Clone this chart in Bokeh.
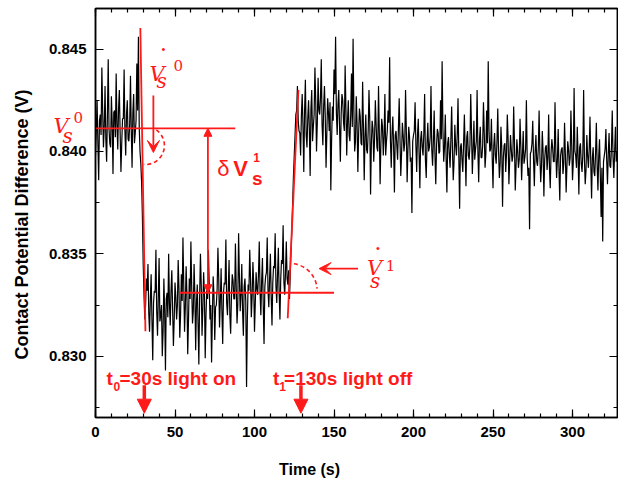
import math
from bokeh.plotting import figure
from bokeh.models import (Label, Arrow, NormalHead, VeeHead, LinearAxis,
                          SingleIntervalTicker, PrintfTickFormatter, Range1d,
                          CustomLabelingPolicy)
from bokeh.embed import file_html
from bokeh.resources import INLINE

# ---------------- data ----------------
# samples at whole seconds
time_whole = list(range(0, 329))
cpd_whole = [
    0.8398, 0.8425, 0.8386, 0.8418, 0.8441, 0.8402, 0.8432, 0.8395, 0.8445, 0.8404,
    0.8427, 0.8389, 0.8420, 0.8438, 0.8401, 0.8430, 0.8390, 0.8416, 0.8440, 0.8398,
    0.8425, 0.8405, 0.8437, 0.8392, 0.8428, 0.8409, 0.8443, 0.8456, 0.8400, 0.8385,
    0.8345, 0.8318, 0.8338, 0.8345, 0.8312, 0.8340, 0.8298, 0.8332, 0.8352, 0.8310,
    0.8348, 0.8320, 0.8300, 0.8338, 0.8293, 0.8331, 0.8350, 0.8315, 0.8342, 0.8305,
    0.8336, 0.8318, 0.8347, 0.8309, 0.8340, 0.8358, 0.8312, 0.8344, 0.8301, 0.8338,
    0.8356, 0.8316, 0.8345, 0.8303, 0.8335, 0.8296, 0.8350, 0.8310, 0.8341, 0.8299,
    0.8333, 0.8352, 0.8318, 0.8297, 0.8339, 0.8308, 0.8325, 0.8353, 0.8314, 0.8343,
    0.8306, 0.8336, 0.8357, 0.8320, 0.8347, 0.8311, 0.8340, 0.8328, 0.8355, 0.8316,
    0.8360, 0.8322, 0.8345, 0.8310, 0.8338, 0.8285, 0.8335, 0.8352, 0.8319, 0.8346,
    0.8312, 0.8341, 0.8330, 0.8356, 0.8320, 0.8348, 0.8306, 0.8339, 0.8358, 0.8324,
    0.8350, 0.8315, 0.8344, 0.8360, 0.8326, 0.8353, 0.8318, 0.8347, 0.8364, 0.8330,
    0.8356, 0.8335, 0.8328, 0.8352, 0.8375, 0.8398, 0.8418, 0.8432, 0.8410, 0.8398,
    0.8428, 0.8390, 0.8435, 0.8402, 0.8425, 0.8388, 0.8430, 0.8412, 0.8441, 0.8400,
    0.8436, 0.8418, 0.8445, 0.8403, 0.8432, 0.8392, 0.8426, 0.8410, 0.8381, 0.8422,
    0.8440, 0.8456, 0.8408, 0.8430, 0.8395, 0.8428, 0.8414, 0.8442, 0.8398, 0.8425,
    0.8405, 0.8438, 0.8455, 0.8400, 0.8427, 0.8390, 0.8421, 0.8404, 0.8434, 0.8386,
    0.8418, 0.8399, 0.8430, 0.8379, 0.8415, 0.8395, 0.8425, 0.8402, 0.8432, 0.8384,
    0.8416, 0.8398, 0.8428, 0.8405, 0.8420, 0.8446, 0.8392, 0.8417, 0.8380, 0.8410,
    0.8396, 0.8426, 0.8388, 0.8414, 0.8400, 0.8430, 0.8385, 0.8412, 0.8395, 0.8370,
    0.8408, 0.8424, 0.8390, 0.8416, 0.8382, 0.8410, 0.8398, 0.8428, 0.8387, 0.8414,
    0.8402, 0.8432, 0.8393, 0.8420, 0.8384, 0.8411, 0.8399, 0.8425, 0.8444, 0.8395,
    0.8418, 0.8380, 0.8407, 0.8392, 0.8422, 0.8386, 0.8413, 0.8398, 0.8426, 0.8372,
    0.8404, 0.8390, 0.8418, 0.8383, 0.8410, 0.8396, 0.8428, 0.8389, 0.8415, 0.8401,
    0.8430, 0.8385, 0.8412, 0.8397, 0.8424, 0.8392, 0.8420, 0.8444, 0.8400, 0.8416,
    0.8382, 0.8409, 0.8394, 0.8421, 0.8387, 0.8412, 0.8373, 0.8403, 0.8390, 0.8418,
    0.8384, 0.8408, 0.8395, 0.8422, 0.8381, 0.8406, 0.8392, 0.8416, 0.8386, 0.8410,
    0.8397, 0.8425, 0.8388, 0.8362, 0.8400, 0.8415, 0.8383, 0.8408, 0.8393, 0.8420,
    0.8385, 0.8410, 0.8378, 0.8402, 0.8391, 0.8418, 0.8382, 0.8406, 0.8395, 0.8424,
    0.8387, 0.8411, 0.8376, 0.8401, 0.8389, 0.8414, 0.8380, 0.8405, 0.8393, 0.8420,
    0.8386, 0.8431, 0.8398, 0.8412, 0.8379, 0.8404, 0.8390, 0.8430, 0.8384, 0.8408,
    0.8392, 0.8417, 0.8377, 0.8402, 0.8388, 0.8414, 0.8381, 0.8406, 0.8368, 0.8356,
    0.8398, 0.8411, 0.8384, 0.8409, 0.8392, 0.8420, 0.8387, 0.8412, 0.8400,
]
# samples at half seconds (0.5 ... 327.5)
time_half = [k + 0.5 for k in range(0, 328)]
cpd_half = [
    0.8410, 0.8404, 0.8415, 0.8408, 0.8420, 0.8412, 0.8406, 0.8418, 0.8411, 0.8402,
    0.8414, 0.8419, 0.8407, 0.8413, 0.8421, 0.8409, 0.8404, 0.8416, 0.8410, 0.8418,
    0.8406, 0.8413, 0.8410, 0.8419, 0.8404, 0.8415, 0.8420, 0.8412, 0.8394, 0.8368,
    0.8330, 0.8325, 0.8332, 0.8321, 0.8328, 0.8318, 0.8326, 0.8331, 0.8322, 0.8329,
    0.8317, 0.8325, 0.8312, 0.8322, 0.8328, 0.8319, 0.8326, 0.8332, 0.8323, 0.8318,
    0.8329, 0.8325, 0.8333, 0.8320, 0.8327, 0.8335, 0.8324, 0.8330, 0.8318, 0.8328,
    0.8334, 0.8322, 0.8330, 0.8326, 0.8316, 0.8329, 0.8335, 0.8323, 0.8331, 0.8320,
    0.8328, 0.8336, 0.8325, 0.8319, 0.8330, 0.8324, 0.8333, 0.8338, 0.8327, 0.8322,
    0.8331, 0.8335, 0.8326, 0.8333, 0.8320, 0.8329, 0.8337, 0.8328, 0.8334, 0.8325,
    0.8339, 0.8330, 0.8322, 0.8334, 0.8327, 0.8318, 0.8332, 0.8338, 0.8329, 0.8335,
    0.8326, 0.8333, 0.8340, 0.8331, 0.8337, 0.8325, 0.8334, 0.8341, 0.8332, 0.8338,
    0.8329, 0.8336, 0.8343, 0.8334, 0.8340, 0.8331, 0.8338, 0.8345, 0.8336, 0.8341,
    0.8338, 0.8342, 0.8340, 0.8362, 0.8388, 0.8408, 0.8420, 0.8415, 0.8409, 0.8418,
    0.8412, 0.8420, 0.8408, 0.8416, 0.8411, 0.8421, 0.8405, 0.8418, 0.8425, 0.8414,
    0.8420, 0.8426, 0.8413, 0.8422, 0.8417, 0.8409, 0.8419, 0.8424, 0.8406, 0.8415,
    0.8428, 0.8419, 0.8423, 0.8412, 0.8418, 0.8425, 0.8410, 0.8421, 0.8415, 0.8408,
    0.8418, 0.8412, 0.8420, 0.8405, 0.8414, 0.8409, 0.8417, 0.8403, 0.8412, 0.8407,
    0.8401, 0.8410, 0.8415, 0.8404, 0.8411, 0.8406, 0.8413, 0.8400, 0.8409, 0.8404,
    0.8412, 0.8407, 0.8398, 0.8410, 0.8414, 0.8405, 0.8409, 0.8402, 0.8408, 0.8403,
    0.8411, 0.8406, 0.8399, 0.8408, 0.8404, 0.8410, 0.8401, 0.8407, 0.8397, 0.8405,
    0.8410, 0.8403, 0.8408, 0.8399, 0.8406, 0.8402, 0.8409, 0.8396, 0.8404, 0.8400,
    0.8407, 0.8401, 0.8405, 0.8398, 0.8403, 0.8409, 0.8400, 0.8406, 0.8411, 0.8402,
    0.8397, 0.8404, 0.8399, 0.8406, 0.8401, 0.8395, 0.8403, 0.8408, 0.8398, 0.8402,
    0.8396, 0.8404, 0.8400, 0.8407, 0.8398, 0.8403, 0.8409, 0.8401, 0.8396, 0.8405,
    0.8400, 0.8406, 0.8397, 0.8403, 0.8409, 0.8399, 0.8404, 0.8410, 0.8401, 0.8397,
    0.8403, 0.8398, 0.8405, 0.8400, 0.8394, 0.8402, 0.8397, 0.8404, 0.8399, 0.8406,
    0.8396, 0.8401, 0.8398, 0.8404, 0.8393, 0.8400, 0.8396, 0.8403, 0.8398, 0.8394,
    0.8401, 0.8397, 0.8392, 0.8399, 0.8404, 0.8396, 0.8400, 0.8395, 0.8402, 0.8398,
    0.8393, 0.8400, 0.8396, 0.8403, 0.8397, 0.8392, 0.8399, 0.8402, 0.8395, 0.8400,
    0.8396, 0.8391, 0.8398, 0.8402, 0.8394, 0.8399, 0.8393, 0.8401, 0.8397, 0.8403,
    0.8395, 0.8400, 0.8392, 0.8398, 0.8402, 0.8394, 0.8399, 0.8396, 0.8391, 0.8398,
    0.8401, 0.8394, 0.8397, 0.8390, 0.8399, 0.8393, 0.8398, 0.8388, 0.8392, 0.8395,
    0.8401, 0.8396, 0.8399, 0.8393, 0.8402, 0.8397, 0.8400, 0.8395,
]
x_ticks_interval = 50
y_ticks_interval = 0.005

# merge the two sample sets in time order
time_s, cpd_v = [], []
for i in range(len(time_whole)):
    time_s.append(time_whole[i])
    cpd_v.append(cpd_whole[i])
    if i < len(time_half):
        time_s.append(time_half[i])
        cpd_v.append(cpd_half[i])

RED = "#ff1a1a"
SANS = "Liberation Sans"
SERIF = "DejaVu Serif"

p = figure(width=618, height=482, output_backend="svg", toolbar_location=None,
           x_range=Range1d(0, 328.3), y_range=Range1d(0.82701, 0.84698),
           min_border_left=94, min_border_right=1, min_border_top=8,
           min_border_bottom=65)
p.grid.visible = False
p.outline_line_color = "black"
p.outline_line_width = 1.5
p.background_fill_color = "white"
p.border_fill_color = "white"

p.xaxis.ticker = SingleIntervalTicker(interval=x_ticks_interval, num_minor_ticks=5)
p.yaxis.ticker = SingleIntervalTicker(interval=y_ticks_interval, num_minor_ticks=2)
p.yaxis.formatter = PrintfTickFormatter(format="%.3f")
p.xaxis.formatter = PrintfTickFormatter(format="%d")
for ax in (p.xaxis, p.yaxis):
    ax.major_tick_in = 8
    ax.major_tick_out = 0
    ax.minor_tick_in = 4
    ax.minor_tick_out = 0
    ax.axis_line_width = 1.5
    ax.major_tick_line_width = 1.2
    ax.minor_tick_line_width = 1.2
    ax.major_label_text_font = SANS
    ax.major_label_text_font_style = "bold"
    ax.major_label_text_font_size = "15px"
    ax.major_label_text_color = "black"
p.yaxis.major_label_standoff = 9
p.xaxis.major_label_standoff = 9

# mirrored tick-only axes on top and right (no labels)
no_labels = CustomLabelingPolicy(code="return []")
top_ax = LinearAxis(ticker=SingleIntervalTicker(interval=x_ticks_interval, num_minor_ticks=5),
                    major_label_text_font_size="0px", major_label_standoff=0,
                    major_label_policy=no_labels)
right_ax = LinearAxis(ticker=SingleIntervalTicker(interval=y_ticks_interval, num_minor_ticks=2),
                      major_label_text_font_size="0px", major_label_standoff=0,
                      major_label_policy=no_labels)
for ax in (top_ax, right_ax):
    ax.major_tick_in = 8
    ax.major_tick_out = 0
    ax.minor_tick_in = 4
    ax.minor_tick_out = 0
    ax.axis_line_width = 1.5
    ax.major_tick_line_width = 1.2
    ax.minor_tick_line_width = 1.2
p.add_layout(top_ax, "above")
p.add_layout(right_ax, "right")

DY = 0.00024  # baseline correction for alphabetic-baseline labels


def lab(x, y, text, size, font=SANS, style="normal", align="left", color=RED,
        baseline="alphabetic", angle=0.0, place=None):
    if baseline == "alphabetic" and angle == 0.0:
        y = y + DY
    label = Label(x=x, y=y, text=text, text_font=font, text_font_style=style,
                  text_font_size=size, text_color=color, text_align=align,
                  text_baseline=baseline, angle=angle)
    if place is None:
        p.add_layout(label)
    else:
        p.add_layout(label, place)


# texts outside the frame live in side panels (positioned in data units)
lab(134.6, 0.82422, "Time (s)", "16px", SANS, "bold", align="center",
    color="black", place="below")
lab(-46.4, 0.83643, "Contact Potential Difference (V)", "18px", SANS, "bold",
    align="center", color="black", angle=math.pi / 2, place="left")
lab(-26.4, 0.84102, "V", "21px", SERIF, "italic", place="left")
lab(-20.7, 0.84053, "s", "20px", SERIF, "italic", place="left")
lab(-13.8, 0.84141, "0", "15px", SERIF, place="below")

# data trace
p.line(time_s, cpd_v, line_color="black", line_width=1.2)

# ---------------- red annotations ----------------
lw = 1.8
p.line([28.2, 31.4], [0.84603, 0.83122], line_color=RED, line_width=lw)
p.line([120.9, 127.6], [0.83186, 0.84300], line_color=RED, line_width=lw)
p.line([0, 87.9], [0.84113, 0.84113], line_color=RED, line_width=lw)
p.line([52.7, 150.0], [0.83310, 0.83310], line_color=RED, line_width=lw)
p.add_layout(Arrow(x_start=70.7, y_start=0.83310, x_end=70.7, y_end=0.84113,
                   line_color=RED, line_width=lw,
                   start=NormalHead(size=8, fill_color=RED, line_color=RED),
                   end=NormalHead(size=8, fill_color=RED, line_color=RED)))
p.add_layout(Arrow(x_start=36.4, y_start=0.84273, x_end=36.4, y_end=0.83995,
                   line_color=RED, line_width=lw,
                   end=VeeHead(size=12, fill_color=RED, line_color=RED)))
p.add_layout(Arrow(x_start=165.1, y_start=0.83428, x_end=140.6, y_end=0.83428,
                   line_color=RED, line_width=lw,
                   end=VeeHead(size=12, fill_color=RED, line_color=RED)))
p.arc(x=31.4, y=0.84029, radius=19, radius_units="screen",
      start_angle=math.radians(55), end_angle=math.radians(-95), direction="clock",
      line_color=RED, line_width=1.6, line_dash="4 3")
p.arc(x=122.4, y=0.83321, radius=27, radius_units="screen",
      start_angle=math.radians(82), end_angle=math.radians(4), direction="clock",
      line_color=RED, line_width=1.6, line_dash="4 3")
for tx in (30.7, 129.2):
    p.add_layout(Arrow(x_start=tx, y_start=0.82858, x_end=tx, y_end=0.82722,
                       line_color=RED, line_width=3.5,
                       end=NormalHead(size=14, fill_color=RED, line_color=RED)))

# dV_s^0 / dt
lab(33.9, 0.84356, "V", "21px", SERIF, "italic")
lab(38.3, 0.84322, "s", "20px", SERIF, "italic")
lab(49.0, 0.84395, "0", "15px", SERIF)
lab(42.7, 0.84502, "\u2022", "11px", SANS, align="center", baseline="middle")
# dV_s^1 / dt
lab(170.7, 0.83409, "V", "21px", SERIF, "italic")
lab(172.6, 0.83345, "s", "20px", SERIF, "italic")
lab(182.6, 0.83418, "1", "15px", SERIF)
lab(177.6, 0.83531, "\u2022", "11px", SANS, align="center", baseline="middle")
# delta V_s^1
lab(76.6, 0.83892, "\u03b4", "22px", SANS)
lab(86.6, 0.83892, "V", "22px", SANS, "bold")
lab(99.2, 0.83946, "1", "12px", SANS, "bold")
lab(98.5, 0.83843, "s", "19px", SANS, "bold")
# light on / off texts
lab(6.9, 0.82867, "t", "19px", SANS, "bold")
lab(11.3, 0.82828, "0", "12px", SANS, "bold")
lab(15.1, 0.82867, "=30s light on", "19px", SANS, "bold")
lab(111.7, 0.82867, "t", "19px", SANS, "bold")
lab(115.5, 0.82828, "1", "12px", SANS, "bold")
lab(118.6, 0.82867, "=130s light off", "19px", SANS, "bold")

open("out.html", "w").write(file_html(p, INLINE))
